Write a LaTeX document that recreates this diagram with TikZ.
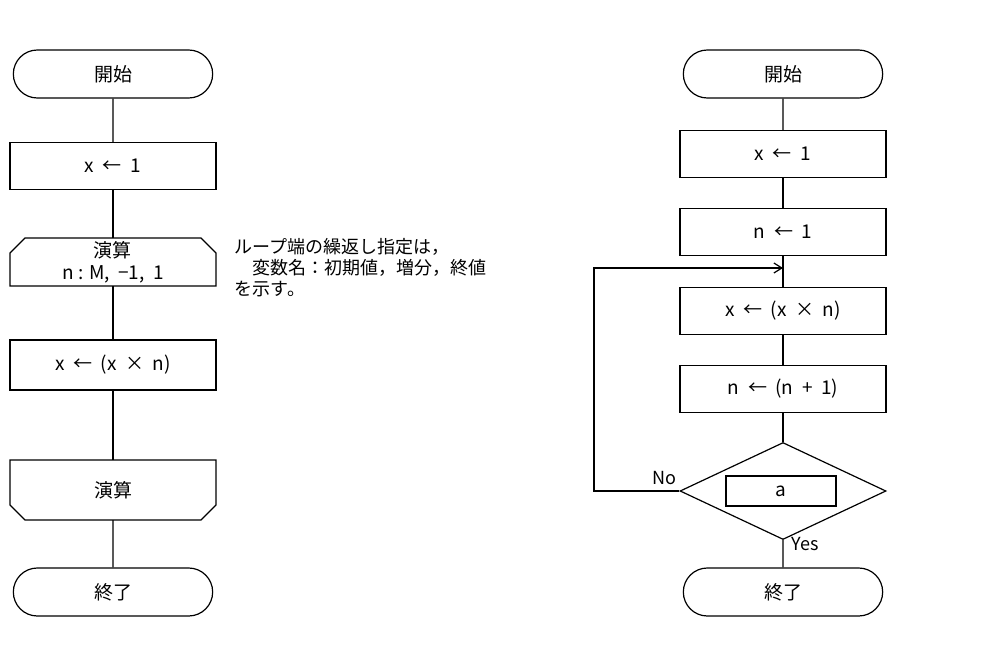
\documentclass[tikz,border=0pt]{standalone}
\usepackage{fontspec}
\setmainfont{Noto Sans CJK JP}
\usetikzlibrary{shapes.misc,shapes.geometric,arrows.meta}
\begin{document}
\begin{tikzpicture}[x=1pt,y=-1pt,line width=1.2pt,
  every node/.style={font=\fontsize{19}{22}\selectfont},
  term/.style={draw,rounded rectangle,minimum width=206pt,minimum height=48pt},
  proc/.style={draw,rectangle,minimum width=206pt,minimum height=47pt},
  lbl/.style={font=\fontsize{18}{21}\selectfont}]
\useasboundingbox (0,0) rectangle (1002,648);
% left
\node[term] (ls) at (113,74) {開始};
\node[proc] (l1) at (113,166) {x\ \ ←\ \ 1};
\draw (10,253) -- (25,238) -- (201,238) -- (216,253) -- (216,286) -- (10,286) -- cycle;
\node[align=center] (lp) at (113,262) {演算\\n : M,\ \ −1,\ \ 1};
\coordinate (lpt) at (113,238); \coordinate (lpb) at (113,286);
\node[proc,minimum height=50pt] (l2) at (113,365) {x\ \ ←\ \ (x\ \ ×\ \ n)};
\draw (10,460) -- (216,460) -- (216,505) -- (201,520) -- (25,520) -- (10,505) -- cycle;
\node (le) at (113,490) {演算};
\coordinate (let) at (113,460); \coordinate (leb) at (113,520);
\node[term] (lt) at (113,592) {終了};
\draw (ls) -- (l1); \draw (l1) -- (lpt); \draw (lpb) -- (l2); \draw (l2) -- (let); \draw (leb) -- (lt);
\node[lbl,anchor=north west,align=left] (note) at (231,234) {ループ端の繰返し指定は，\\\quad 変数名：初期値，増分，終値\\を示す。};
% right
\node[term] (rs) at (783,74) {開始};
\node[proc] (r1) at (783,154) {x\ \ ←\ \ 1};
\node[proc] (r2) at (783,232) {n\ \ ←\ \ 1};
\node[proc] (r3) at (783,311) {x\ \ ←\ \ (x\ \ ×\ \ n)};
\node[proc] (r4) at (783,389) {n\ \ ←\ \ (n\ \ +\ \ 1)};
\node[draw,diamond,minimum width=206pt,minimum height=97pt,inner sep=0pt,aspect=2.1] (d) at (783,491) {};
\node[draw,minimum width=110pt,minimum height=30pt] (a) at (781,491) {a};
\node[term] (rt) at (783,592) {終了};
\coordinate (j) at (783,268);
\coordinate (c1) at (594,491); \coordinate (c2) at (594,268);
\draw (rs) -- (r1); \draw (r1) -- (r2); \draw (r2) -- (r3); \draw (r3) -- (r4); \draw (r4) -- (d.north);
\draw (d.south) -- (rt);
\draw[-{Straight Barb[length=8pt,width=10pt]}] (d.west) -- (c1) -- (c2) -- (j);
\node[lbl,anchor=south east] (no) at (680,489) {No};
\node[lbl,anchor=north west] (yes) at (788,533) {Yes};
\end{tikzpicture}
\end{document}
